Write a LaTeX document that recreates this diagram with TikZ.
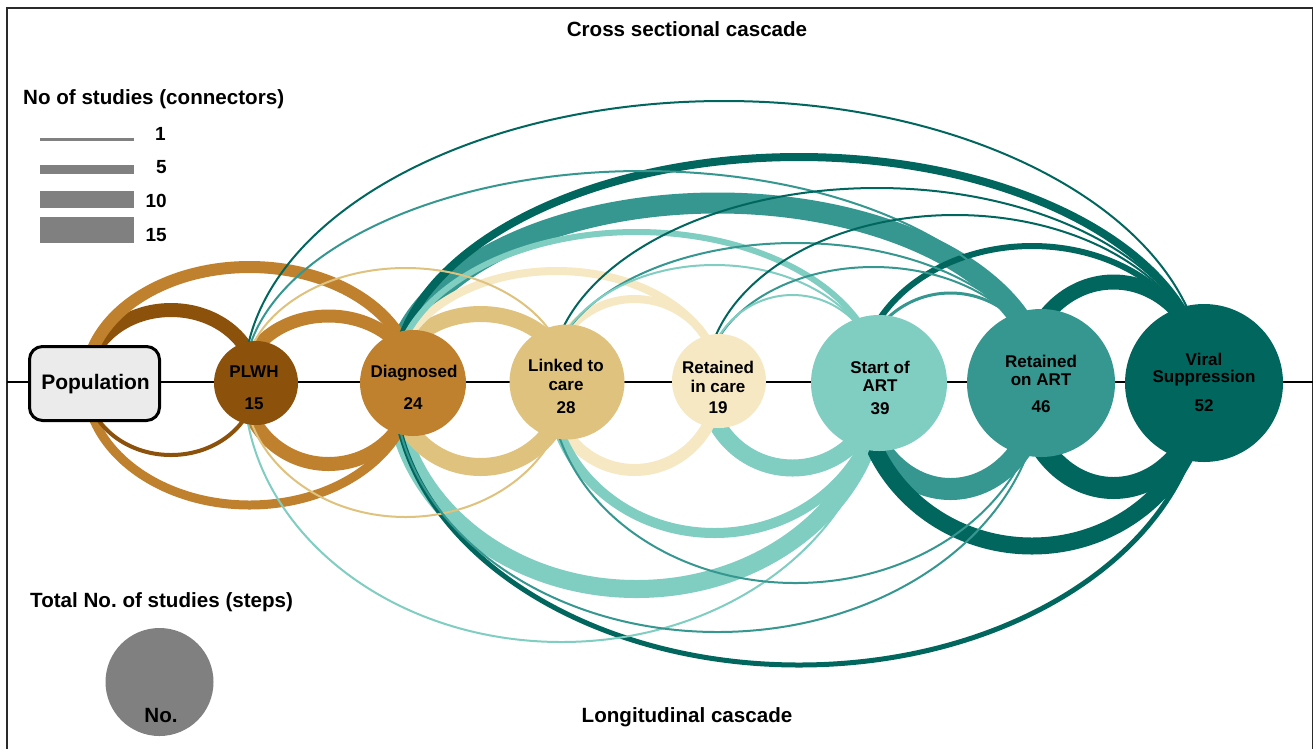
\documentclass[tikz,border=0pt]{standalone}
\usepackage{fontspec}
\setmainfont{Liberation Sans}
\frenchspacing
\usetikzlibrary{calc}
\definecolor{cA}{HTML}{8C510A}
\definecolor{cB}{HTML}{BF812D}
\definecolor{cC}{HTML}{DFC27D}
\definecolor{cD}{HTML}{F6E8C3}
\definecolor{cE}{HTML}{80CDC1}
\definecolor{cF}{HTML}{35978F}
\definecolor{cG}{HTML}{01665E}
\definecolor{legendgray}{HTML}{808080}
\definecolor{popfill}{HTML}{EBEBEB}
\definecolor{framegray}{HTML}{2A2A2A}
\pgfdeclarelayer{bg}
\pgfsetlayers{bg,main}
% #1 start port (left), #2 end node (right), #3 height, #4 width, #5 colour
\newcommand\cascUp[5]{\draw[line width=#4pt, draw=#5] let \p1=(#1.center), \p2=(#2.center) in (\p1) arc[start angle=180, end angle=0, x radius={(\x2-\x1)/2}, y radius=#3pt];}
\newcommand\cascDown[5]{\draw[line width=#4pt, draw=#5] let \p1=(#1.center), \p2=(#2.center) in (\p1) arc[start angle=180, end angle=360, x radius={(\x2-\x1)/2}, y radius=#3pt];}
\tikzset{
  stepbox/.style={circle, inner sep=0pt, draw=none},
  lbl/.style={font=\fontsize{17}{18}\selectfont\bfseries, anchor=base, inner sep=0pt},
  ttl/.style={font=\fontsize{20.6}{24}\selectfont\bfseries, inner sep=0pt},
  legnum/.style={font=\fontsize{19}{22}\selectfont\bfseries, anchor=base east, inner sep=0pt},
  legbar/.style={rectangle, fill=legendgray, inner sep=0pt, minimum width=94pt},
  popbox/.style={rectangle, rounded corners=13pt, draw=black, line width=3pt, fill=popfill, minimum width=130pt, minimum height=74pt, inner sep=0pt},
}
\begin{document}
\begin{tikzpicture}[x=1pt, y=-1pt]
\useasboundingbox (0,0) rectangle (1313,748);

% step nodes
\node[popbox] (pop) at (94.5,383.5) {};
\node[stepbox, fill=cA, minimum size=84pt] (plwh) at (256,383) {};
\node[stepbox, fill=cB, minimum size=106pt] (diag) at (413,383) {};
\node[stepbox, fill=cC, minimum size=115pt] (linked) at (567,382) {};
\node[stepbox, fill=cD, minimum size=94pt] (retcare) at (719,381) {};
\node[stepbox, fill=cE, minimum size=136pt] (start) at (879,383) {};
\node[stepbox, fill=cF, minimum size=148pt] (retart) at (1041,383) {};
\node[stepbox, fill=cG, minimum size=158pt] (viral) at (1204,383) {};

% outgoing ports (arcs leave each step slightly left of its centre)
\coordinate (popS) at (86,382);
\coordinate (plwhS) at (244,382);
\coordinate (diagS) at (394,382);
\coordinate (linkedS) at (550,382);
\coordinate (retcareS) at (706,382);
\coordinate (startS) at (860,382);
\coordinate (retartS) at (1023,382);

\coordinate (lineL) at (7,382);
\coordinate (lineR) at (1313,382);

\begin{pgfonlayer}{bg}
\clip (0,0) rectangle (1313,748);
\fill[white] (0,0) rectangle (1313,748);
\draw[framegray, line width=2pt] (7,8) rectangle (1313.4,770);
\draw[black, line width=2pt] (lineL) -- (lineR);
% upper arcs (cross sectional)
\cascUp{diagS}{retart}{179}{21}{cF}
\cascUp{diagS}{linked}{68}{16}{cC}
\cascUp{retartS}{viral}{100}{15}{cG}
\cascUp{popS}{plwh}{72}{14}{cA}
\cascUp{plwhS}{diag}{66}{13}{cB}
\cascUp{popS}{diag}{115}{12}{cB}
\cascUp{diagS}{viral}{225}{8}{cG}
\cascUp{diagS}{retcare}{111}{8}{cD}
\cascUp{linkedS}{retcare}{83}{8}{cD}
\cascUp{diagS}{start}{150}{6}{cE}
\cascUp{startS}{viral}{136}{6}{cG}
\cascUp{startS}{retart}{89}{3}{cF}
\cascUp{plwhS}{linked}{114}{2}{cC}
\cascUp{plwhS}{viral}{281}{2}{cG}
\cascUp{plwhS}{retart}{211}{2}{cF}
\cascUp{linkedS}{viral}{194}{2}{cG}
\cascUp{linkedS}{retart}{139}{2}{cF}
\cascUp{linkedS}{start}{117}{2}{cE}
\cascUp{retcareS}{viral}{167}{2}{cG}
\cascUp{retcareS}{retart}{115}{2}{cF}
\cascUp{retcareS}{start}{87}{2}{cE}
% lower arcs (longitudinal)
\cascDown{retartS}{viral}{106}{22}{cG}
\cascDown{startS}{retart}{107}{22}{cF}
\cascDown{diagS}{start}{207}{18}{cE}
\cascDown{diagS}{linked}{85}{18}{cC}
\cascDown{retcareS}{start}{86}{17}{cE}
\cascDown{startS}{viral}{164}{17}{cG}
\cascDown{plwhS}{diag}{82}{14}{cB}
\cascDown{linkedS}{retcare}{88}{12}{cD}
\cascDown{linkedS}{start}{151}{10}{cE}
\cascDown{popS}{diag}{123}{9}{cB}
\cascDown{diagS}{viral}{283}{5}{cG}
\cascDown{popS}{plwh}{73}{4}{cA}
\cascDown{plwhS}{linked}{135}{2}{cC}
\cascDown{plwhS}{start}{260}{2}{cE}
\cascDown{linkedS}{retart}{201}{2}{cF}
\cascDown{diagS}{retart}{250}{2}{cF}
\end{pgfonlayer}

% node labels
\node[lbl, font=\fontsize{21}{24}\selectfont\bfseries] (popT) at (95.5,389) {Population};
\node[lbl] (plwhT) at (254,377) {PLWH};
\node[lbl] (plwhN) at (254,409) {15};
\node[lbl] (diagT) at (414,377) {Diagnosed};
\node[lbl] (diagN) at (413,409) {24};
\node[lbl] (linkedT) at (566,371) {Linked to};
\node[lbl] (linkedT2) at (566,390) {care};
\node[lbl] (linkedN) at (566,413) {28};
\node[lbl] (retcareT) at (718,373) {Retained};
\node[lbl] (retcareT2) at (718,392) {in care};
\node[lbl] (retcareN) at (718,413) {19};
\node[lbl] (startT) at (880,373) {Start of};
\node[lbl] (startT2) at (880,391) {ART};
\node[lbl] (startN) at (880,414) {39};
\node[lbl] (retartT) at (1041,367) {Retained};
\node[lbl] (retartT2) at (1041,385) {on ART};
\node[lbl] (retartN) at (1041,412) {46};
\node[lbl] (viralT) at (1204,365) {Viral};
\node[lbl] (viralT2) at (1204,382) {Suppression};
\node[lbl] (viralN) at (1204,411) {52};

% titles
\node[ttl, anchor=base] (cross) at (687,36) {Cross sectional cascade};
\node[ttl, anchor=base] (longi) at (687,722) {Longitudinal cascade};

% legend: connectors
\node[ttl, anchor=base west] (legC) at (23,104) {No of studies (connectors)};
\node[legbar, minimum height=3pt] (bar1) at (87,139) {};
\node[legbar, minimum height=9pt] (bar5) at (87,169.5) {};
\node[legbar, minimum height=17pt] (bar10) at (87,199.5) {};
\node[legbar, minimum height=26pt] (bar15) at (87,230) {};
\node[legnum] (n1) at (166,140) {1};
\node[legnum] (n5) at (167,173) {5};
\node[legnum] (n10) at (167,207) {10};
\node[legnum] (n15) at (167,241) {15};

% legend: steps
\node[ttl, anchor=base west] (legS) at (30,607) {Total No. of studies (steps)};
\node[stepbox, fill=legendgray, minimum size=108pt] (legcirc) at (159.5,682) {};
\node[ttl, anchor=base] (legno) at (161,722) {No.};
\end{tikzpicture}
\end{document}
